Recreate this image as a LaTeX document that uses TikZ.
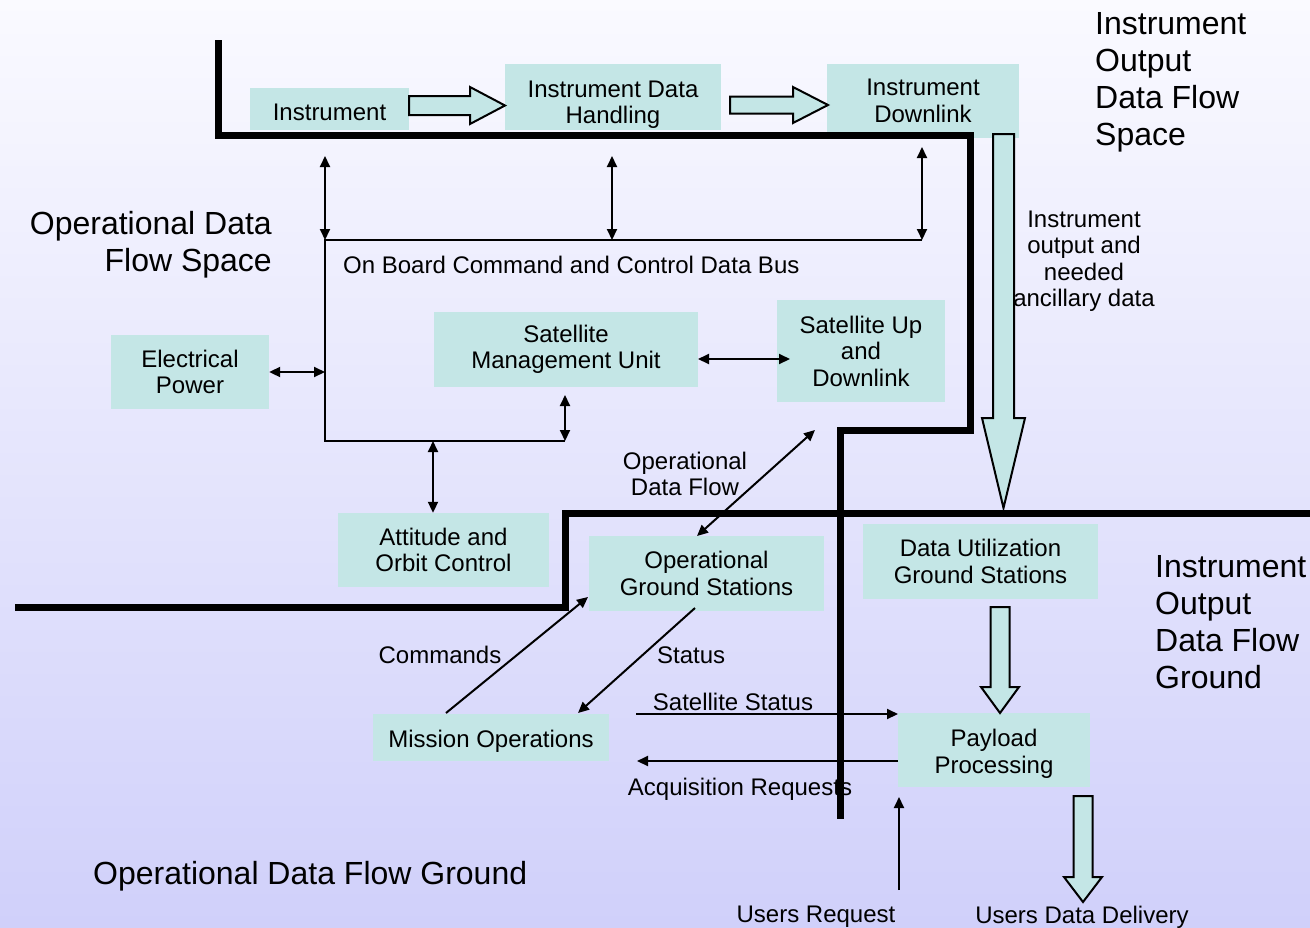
\documentclass[tikz,border=0pt]{standalone}
\usepackage{fontspec}
\setmainfont{Liberation Sans}
\usetikzlibrary{arrows.meta}
\definecolor{boxfill}{RGB}{196,230,230}
\definecolor{bgtop}{RGB}{250,250,255}
\definecolor{bgbot}{RGB}{208,208,250}

\begin{document}
\begin{tikzpicture}[x=1pt,y=-1pt,
  box/.style={fill=boxfill, inner sep=0pt, align=center, font=\fontsize{24}{26.5}\selectfont},
  lbl/.style={inner sep=0pt, align=center, font=\fontsize{24}{26.5}\selectfont},
  big/.style={inner sep=0pt, font=\fontsize{32}{37}\selectfont},
  wall/.style={line width=7pt, line join=miter},
  thinline/.style={line width=2pt},
  dbl/.style={thinline, {Triangle[length=11pt,width=10pt]}-{Triangle[length=11pt,width=10pt]}},
  sgl/.style={thinline, -{Triangle[length=11pt,width=10pt]}},
  blockarrow/.style={fill=boxfill, draw=black, line width=2pt, line join=miter}
]
% background
\shade[top color=bgtop, bottom color=bgbot] (0,0) rectangle (1310,927);
\useasboundingbox (0,0) rectangle (1310,927);

% functional blocks
\node[box, minimum width=159pt, minimum height=42pt, text height=24pt] (inst) at (329.5,109) {Instrument};
\node[box, minimum width=216pt, minimum height=66pt, text height=58pt] (idh) at (613,97) {Instrument Data\\Handling};
\node[box, minimum width=192pt, minimum height=74pt] (idl) at (923,101) {Instrument\\Downlink};
\node[box, minimum width=158pt, minimum height=74pt] (ep) at (190,372) {Electrical\\Power};
\node[box, minimum width=264pt, minimum height=75pt] (smu) at (566,349.5) {Satellite\\Management Unit};
\node[box, minimum width=168pt, minimum height=102pt] (sud) at (861,351) {Satellite Up\\and\\Downlink};
\node[box, minimum width=211pt, minimum height=74pt] (aoc) at (443.5,550) {Attitude and\\Orbit Control};
\node[box, minimum width=235pt, minimum height=75pt] (ogs) at (706.5,573.5) {Operational\\Ground Stations};
\node[box, minimum width=235pt, minimum height=75pt] (dugs) at (980.5,561.5) {Data Utilization\\Ground Stations};
\node[box, minimum width=236pt, minimum height=47pt, text height=24pt] (mo) at (491,737.5) {Mission Operations};
\node[box, minimum width=192pt, minimum height=74pt, text height=51pt] (pp) at (994,750) {Payload\\Processing};

% wide data-flow arrows
\draw[blockarrow] (409,96) -- (470,96) -- (470,87) -- (505,105.5) -- (470,124) -- (470,115) -- (409,115) -- cycle;
\draw[blockarrow] (730,96.5) -- (793,96.5) -- (793,87) -- (828,105) -- (793,123) -- (793,113.5) -- (730,113.5) -- cycle;
\draw[blockarrow] (993,134) -- (1014,134) -- (1014,418) -- (1025,418) -- (1003.5,508) -- (982,418) -- (993,418) -- cycle;
\draw[blockarrow] (990.5,607) -- (1009.5,607) -- (1009.5,687) -- (1019,687) -- (1000,713) -- (981,687) -- (990.5,687) -- cycle;
\draw[blockarrow] (1073.5,796) -- (1092.5,796) -- (1092.5,877) -- (1102,877) -- (1083,902) -- (1064,877) -- (1073.5,877) -- cycle;

% on-board data bus
\coordinate (busTL) at (325,240);
\coordinate (busTR) at (922,240);
\coordinate (busBL) at (325,441);
\coordinate (busBR) at (565,441);
\coordinate (busA) at (433,441);
\draw[thinline] (busTR) -- (busTL) -- (busBL) -- (busBR);

\coordinate (instPort) at (325,156);
\coordinate (idhPort) at (612,156);
\coordinate (idlPort) at (922,147);
\coordinate (smuPort) at (565,395);
\coordinate (smuR) at (698,359);
\coordinate (sudL) at (790,359);
\coordinate (sudLink) at (815,430);
\coordinate (ogsLink) at (697,536);
\coordinate (moCmd) at (446,713);
\coordinate (ogsCmd) at (588,597);
\coordinate (ogsSt) at (695,608);
\coordinate (moSt) at (578,713);
\coordinate (moSS) at (636,714);
\coordinate (ppSS) at (898,714);
\coordinate (ppAR) at (898,761);
\coordinate (moAR) at (637,761);
\coordinate (usrReq) at (899,890);
\coordinate (ppReq) at (899,797);

\draw[dbl] (instPort) -- (busTL);
\draw[dbl] (idhPort) -- (idhPort |- busTL);
\draw[dbl] (idlPort) -- (busTR);
\draw[dbl] (ep.east) -- (ep.east -| busTL);
\draw[dbl] (smuPort) -- (busBR);
\draw[dbl] (busA) -- (busA |- aoc.north);
\draw[dbl] (smuR) -- (sudL);
\draw[dbl] (sudLink) -- (ogsLink);

% ground links
\draw[sgl] (moCmd) -- (ogsCmd);
\draw[sgl] (ogsSt) -- (moSt);
\draw[sgl] (moSS) -- (ppSS);
\draw[sgl] (ppAR) -- (moAR);
\draw[sgl] (usrReq) -- (ppReq);

% labels
\node[lbl, anchor=west] (busl) at (343,265) {On Board Command and Control Data Bus};
\node[lbl] (anc) at (1084,261) {Instrument\\output and\\needed\\ancillary data};
\node[lbl] (odf) at (685,474) {Operational\\Data Flow};
\node[lbl] (cmd) at (440,655) {Commands};
\node[lbl, anchor=west] (st) at (657,655) {Status};
\node[lbl] (ss) at (733,702) {Satellite Status};
\node[lbl] (ar) at (740,789) {Acquisition Requests};
\node[lbl] (ur) at (816,917) {Users Request};
\node[lbl] (udd) at (1082,917) {Users Data Delivery};

\node[big, align=right, anchor=east] (odfs) at (272,244.5) {Operational Data\\Flow Space};
\node[big, align=left, anchor=west] (iodfs) at (1095,82.5) {Instrument\\Output\\Data Flow\\Space};
\node[big, align=left, anchor=west] (iodfg) at (1155,622.5) {Instrument\\Output\\Data Flow\\Ground};
\node[big, anchor=west] (odfg) at (93,876) {Operational Data Flow Ground};

% space / ground boundaries
\draw[wall] (218.5,40) -- (218.5,135) -- (970,135) -- (970,430) -- (840,430) -- (840,819);
\draw[wall] (15,607) -- (565,607) -- (565,513) -- (1310,513);
\end{tikzpicture}
\end{document}
